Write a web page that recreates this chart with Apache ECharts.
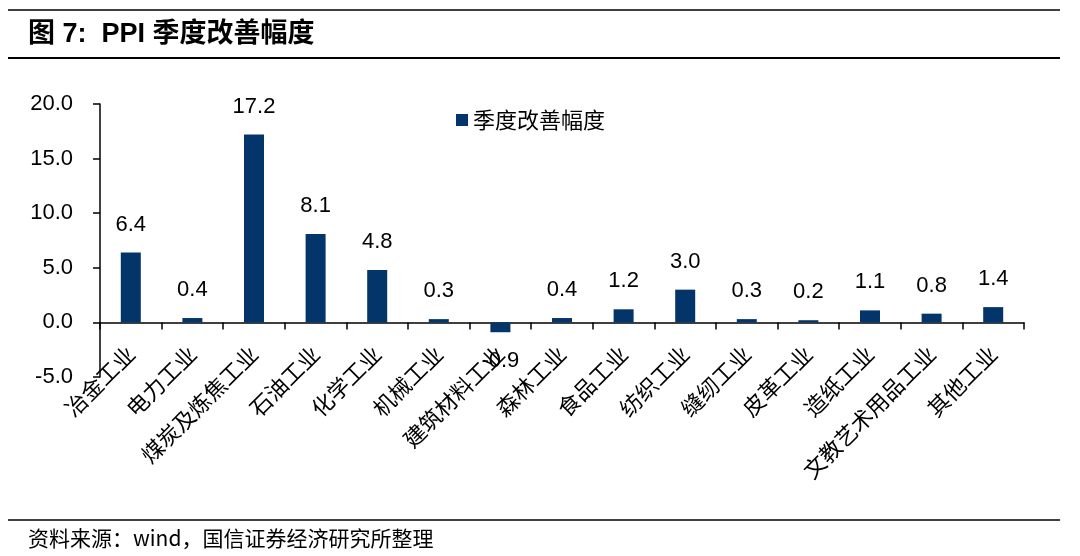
<!DOCTYPE html>
<html>
<head>
<meta charset="utf-8">
<script src="https://cdn.jsdelivr.net/npm/echarts@6/dist/echarts.min.js"></script>
<style>
  html, body { margin: 0; padding: 0; background: #fff; }
  #chart { width: 1080px; height: 556px; }
</style>
</head>
<body>
<div id="chart"></div>
<script>
var categories = ['冶金工业', '电力工业', '煤炭及炼焦工业', '石油工业', '化学工业', '机械工业', '建筑材料工业', '森林工业', '食品工业', '纺织工业', '缝纫工业', '皮革工业', '造纸工业', '文教艺术用品工业', '其他工业']
var improve = [6.4, 0.4, 17.2, 8.1, 4.8, 0.3, -0.9, 0.4, 1.2, 3.0, 0.3, 0.2, 1.1, 0.8, 1.4]

var latin = 'Arial, "Liberation Sans", "Noto Sans CJK SC"'
var cjk = '"Noto Sans CJK SC", sans-serif'

var chart = echarts.init(document.getElementById('chart'))

chart.setOption({
  animation: false,
  backgroundColor: '#fff',
  grid: { left: 100, right: 56, top: 104, bottom: 179 },
  legend: {
    left: 451, top: 104,
    itemWidth: 12, itemHeight: 12, itemGap: 7,
    icon: 'rect',
    textStyle: { fontFamily: cjk, fontSize: 22, color: '#000' },
    data: ['季度改善幅度']
  },
  xAxis: {
    type: 'category',
    data: categories,
    axisLine: { onZero: true, lineStyle: { color: '#000', width: 1.5 } },
    axisTick: { show: true, alignWithLabel: false, length: 7, lineStyle: { color: '#000', width: 1.5 } },
    axisLabel: {
      rotate: 45, margin: -27, interval: 0,
      fontFamily: cjk, fontSize: 22, color: '#000'
    }
  },
  yAxis: {
    type: 'value',
    min: -5, max: 20, interval: 5,
    axisLine: { show: true, lineStyle: { color: '#000', width: 1.5 } },
    axisTick: { show: true, length: 7, lineStyle: { color: '#000', width: 1.5 } },
    splitLine: { show: false },
    axisLabel: {
      margin: 27, fontFamily: latin, fontSize: 22, color: '#000',
      formatter: function (v) { return v.toFixed(1) }
    }
  },
  series: [{
    name: '季度改善幅度',
    type: 'bar',
    barWidth: 20,
    itemStyle: { color: '#03356A' },
    label: {
      show: true, position: 'top', distance: 17,
      fontFamily: latin, fontSize: 22, color: '#000',
      formatter: function (p) { return p.value.toFixed(1) }
    },
    data: improve.map(function (v) {
      if (v < 0) return { value: v, label: { position: 'bottom', distance: 18 } }
      return v
    })
  }],
  graphic: [
    { type: 'line', shape: { x1: 8, y1: 10, x2: 1060, y2: 10 }, style: { stroke: '#000', lineWidth: 1.5 } },
    { type: 'text', left: 28, top: 21, style: { text: '图 7:  PPI 季度改善幅度', font: 'bold 27px ' + latin, fill: '#000' } },
    { type: 'line', shape: { x1: 8, y1: 58, x2: 1060, y2: 58 }, style: { stroke: '#000', lineWidth: 2 } },
    { type: 'line', shape: { x1: 8, y1: 520, x2: 1060, y2: 520 }, style: { stroke: '#000', lineWidth: 1.5 } },
    { type: 'text', left: 28, top: 528, style: { text: '资料来源：wind，国信证券经济研究所整理', font: '21px ' + cjk, fill: '#000' } }
  ]
})
</script>
</body>
</html>
